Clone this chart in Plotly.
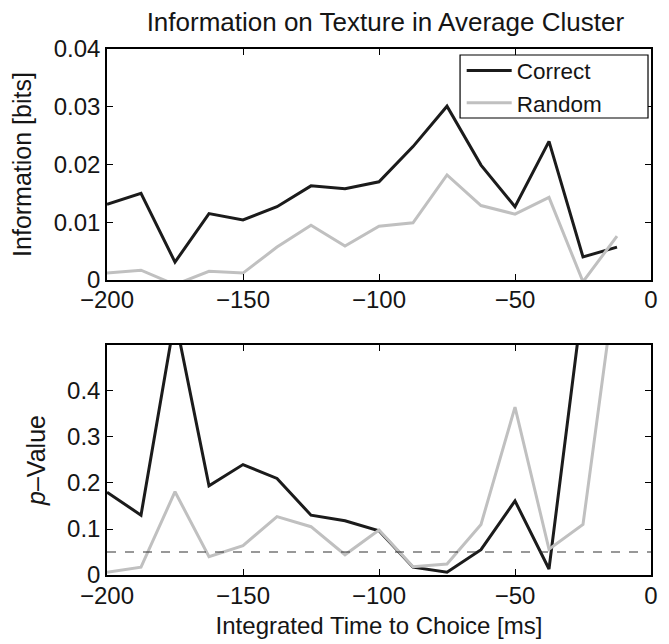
import plotly.graph_objects as go
from plotly.subplots import make_subplots

# ---- data ----
time_ms = [-200, -187.5, -175, -162.5, -150, -137.5, -125, -112.5, -100,
           -87.5, -75, -62.5, -50, -37.5, -25, -12.5]
info_correct = [0.0131, 0.0150, 0.0031, 0.0115, 0.0104, 0.0127, 0.0163, 0.0158,
                0.0170, 0.0231, 0.0301, 0.0199, 0.0127, 0.0240, 0.0040, 0.0057]
info_random = [0.0012, 0.0017, -0.0008, 0.0015, 0.0012, 0.0057, 0.0095, 0.0059,
               0.0093, 0.0099, 0.0182, 0.0129, 0.0114, 0.0143, -0.0003, 0.0076]
p_correct = [0.180, 0.130, 0.560, 0.194, 0.240, 0.210, 0.130, 0.118, 0.096,
             0.017, 0.006, 0.055, 0.161, 0.013, 0.600, 0.800]
p_random = [0.006, 0.017, 0.181, 0.040, 0.064, 0.127, 0.105, 0.044, 0.098,
            0.018, 0.024, 0.110, 0.365, 0.056, 0.110, 0.660]
significance = 0.05

x_ticks = [-200, -150, -100, -50, 0]
info_ticks = [0, 0.01, 0.02, 0.03, 0.04]
p_ticks = [0, 0.1, 0.2, 0.3, 0.4]

BLACK = "#1b1b1b"
GRAY = "#c0c0c0"
TEXT = "#151515"
FONT = "Liberation Sans, Arial, sans-serif"

fig = make_subplots(rows=2, cols=1, vertical_spacing=0.0)

fig.add_trace(go.Scatter(x=time_ms, y=info_correct, mode="lines", name="Correct",
                         line=dict(color=BLACK, width=3)), row=1, col=1)
fig.add_trace(go.Scatter(x=time_ms, y=info_random, mode="lines", name="Random",
                         line=dict(color=GRAY, width=3)), row=1, col=1)
fig.add_trace(go.Scatter(x=time_ms, y=p_correct, mode="lines", showlegend=False,
                         line=dict(color=BLACK, width=3)), row=2, col=1)
fig.add_trace(go.Scatter(x=time_ms, y=p_random, mode="lines", showlegend=False,
                         line=dict(color=GRAY, width=3)), row=2, col=1)

fig.add_shape(type="line", xref="x2 domain", yref="y2", x0=0, x1=1,
              y0=significance, y1=significance,
              line=dict(color="#333333", width=1.2, dash="dash"))
# legend frame
fig.add_shape(type="rect", xref="paper", yref="paper", x0=0.649, x1=0.9945,
              y0=0.8688, y1=0.9886, fillcolor="white", layer="above",
              line=dict(color="black", width=1.2))

axis_common = dict(showline=True, linecolor="black", linewidth=1.5, mirror="ticks",
                   ticks="inside", ticklen=6, tickcolor="black", showgrid=False,
                   zeroline=False, automargin=False, tickfont=dict(size=24, color=TEXT))

fig.update_xaxes(range=[-200, 0], tickvals=x_ticks, **axis_common)
fig.update_xaxes(domain=[0, 1], ticklabelstandoff=-3, row=1, col=1)
fig.update_xaxes(ticklabelstandoff=-2,
                 title=dict(text="Integrated Time to Choice [ms]", font=dict(size=24, color=TEXT),
                            standoff=10), row=2, col=1)
fig.update_yaxes(range=[0, 0.04], tickvals=info_ticks, ticktext=["0", "0.01", "0.02", "0.03", "0.04"],
                 domain=[0.5608, 1.0],
                 title=dict(text="Information [bits]", font=dict(size=25, color=TEXT), standoff=15),
                 row=1, col=1, **axis_common)
fig.update_yaxes(range=[0, 0.5], tickvals=p_ticks, ticktext=["0", "0.1", "0.2", "0.3", "0.4"],
                 domain=[0.0, 0.4373],
                 title=dict(text="<i>p</i>\u2013Value", font=dict(size=25, color=TEXT), standoff=14),
                 row=2, col=1, **axis_common)

fig.update_layout(
    width=669, height=644,
    margin=dict(l=107, r=18, t=49, b=69, autoexpand=False),
    paper_bgcolor="white", plot_bgcolor="white",
    font=dict(family=FONT, color=TEXT),
    title=dict(text="Information on Texture in Average Cluster", x=0.576, xanchor="center",
               y=0.966, yanchor="middle", font=dict(size=26, color=TEXT)),
    legend=dict(x=0.652, y=0.9278, xanchor="left", yanchor="middle",
                bgcolor="rgba(0,0,0,0)", borderwidth=0,
                font=dict(size=22.5, color=TEXT), itemwidth=45, tracegroupgap=0),
    showlegend=True,
)

fig.write_html("out.html", config={"displayModeBar": False},
               post_script="document.body.style.margin='0';document.body.style.overflow='hidden';")
